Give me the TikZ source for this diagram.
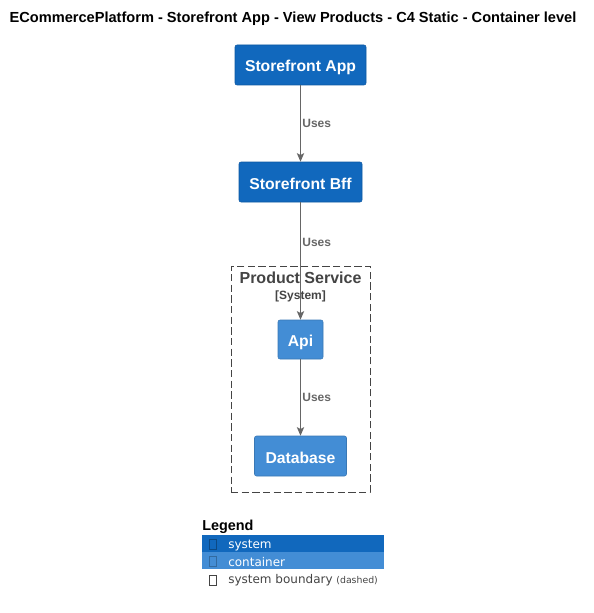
\documentclass[tikz,border=0pt]{standalone}
\usepackage{fontspec}
\setmainfont{Liberation Sans}
\newfontfamily\legendfont{DejaVu Sans}
\usepackage{xcolor}
\usepackage{tikz}
\usetikzlibrary{arrows, arrows.meta, positioning}
\definecolor{sysblue}{HTML}{1168BD}
\definecolor{conblue}{HTML}{438DD5}
\definecolor{relgray}{HTML}{666666}
\definecolor{bndgray}{HTML}{444444}
\tikzstyle{arrow} = [relgray, line width=0.75pt, -{Stealth[length=6.5pt, width=5.5pt, inset=1.5pt]}]
\tikzstyle{sysbox} = [rectangle, rounded corners=1.5pt, fill=sysblue, draw=sysblue!85!black, text=white, font=\fontsize{11.8}{14}\selectfont\bfseries, inner sep=0pt, text height=10.5pt, text depth=0pt]
\tikzstyle{conbox} = [sysbox, fill=conblue, draw=conblue!85!black]
\tikzstyle{uses} = [right, text=relgray, font=\fontsize{9}{11}\selectfont\bfseries, inner sep=1pt]
\tikzstyle{boundary} = [rectangle, draw=bndgray, dash pattern=on 5.5pt off 2.5pt, inner sep=0pt]
\tikzstyle{legrow} = [rectangle, anchor=north west, minimum width=136.5pt, minimum height=12.75pt, inner sep=0pt]
\tikzstyle{glyph} = [rectangle, draw, line width=0.4pt, minimum width=5pt, minimum height=7.5pt, inner sep=0pt]

\begin{document}
\begin{tikzpicture}[x=0.75pt, y=-0.75pt]
    \useasboundingbox (0,0) rectangle (593,613);

    % Title
    \node (title) at (293,19) [font=\fontsize{10.95}{13}\selectfont\bfseries] {ECommercePlatform - Storefront App - View Products - C4 Static - Container level};

    % Boundary
    \node (psbound) at (300.5,379) [boundary, minimum width=104.25pt, minimum height=169.5pt] {};
    \node (pstitle) at (300.5,278) [text=bndgray, font=\fontsize{12}{14}\selectfont\bfseries, inner sep=0pt] {Product Service};
    \node (pstype) at (300.5,296) [text=bndgray, font=\fontsize{9}{11}\selectfont\bfseries, inner sep=0pt] {[System]};

    % Containers
    \node (app) at (300.5,65) [sysbox, minimum width=98.25pt, minimum height=30pt] {Storefront App};
    \node (bff) at (300.5,182) [sysbox, minimum width=92.25pt, minimum height=30pt] {Storefront Bff};
    \node (api) at (300.5,339.5) [conbox, minimum width=33.75pt, minimum height=29.25pt] {Api};
    \node (db) at (300.5,456) [conbox, minimum width=69pt, minimum height=30pt] {Database};

    % Relations
    \draw[arrow] (app) -- (bff) node[uses, midway] {Uses};
    \draw[arrow] (bff) -- (api) node[uses, pos=0.34] {Uses};
    \draw[arrow] (api) -- (db) node[uses, midway] {Uses};

    % Legend
    \node (legtitle) at (202,527) [anchor=west, inner sep=0pt, font=\fontsize{10.8}{13}\selectfont\bfseries] {Legend};
    \node (legsys) at (202,534.5) [legrow, fill=sysblue] {};
    \node (legcon) at (202,551.5) [legrow, fill=conblue] {};
    \node (legbnd) at (202,569) [legrow, minimum height=14pt] {};
    \node (gsys) at (212.5,544) [glyph, draw=sysblue!70!black] {};
    \node (gcon) at (212.5,561) [glyph, draw=conblue!75!black] {};
    \node (gbnd) at (212.5,580) [glyph, draw=bndgray] {};
    \node (tsys) at (228,545.5) [anchor=west, inner sep=0pt, text=white, font=\legendfont\fontsize{9}{11}\selectfont] {system};
    \node (tcon) at (228,562.5) [anchor=west, inner sep=0pt, text=white, font=\legendfont\fontsize{9}{11}\selectfont] {container};
    \node (tbnd) at (228,580.5) [anchor=west, inner sep=0pt, text=bndgray, font=\legendfont\fontsize{9}{11}\selectfont] {system boundary {\fontsize{7}{8}\selectfont(dashed)}};
\end{tikzpicture}
\end{document}
